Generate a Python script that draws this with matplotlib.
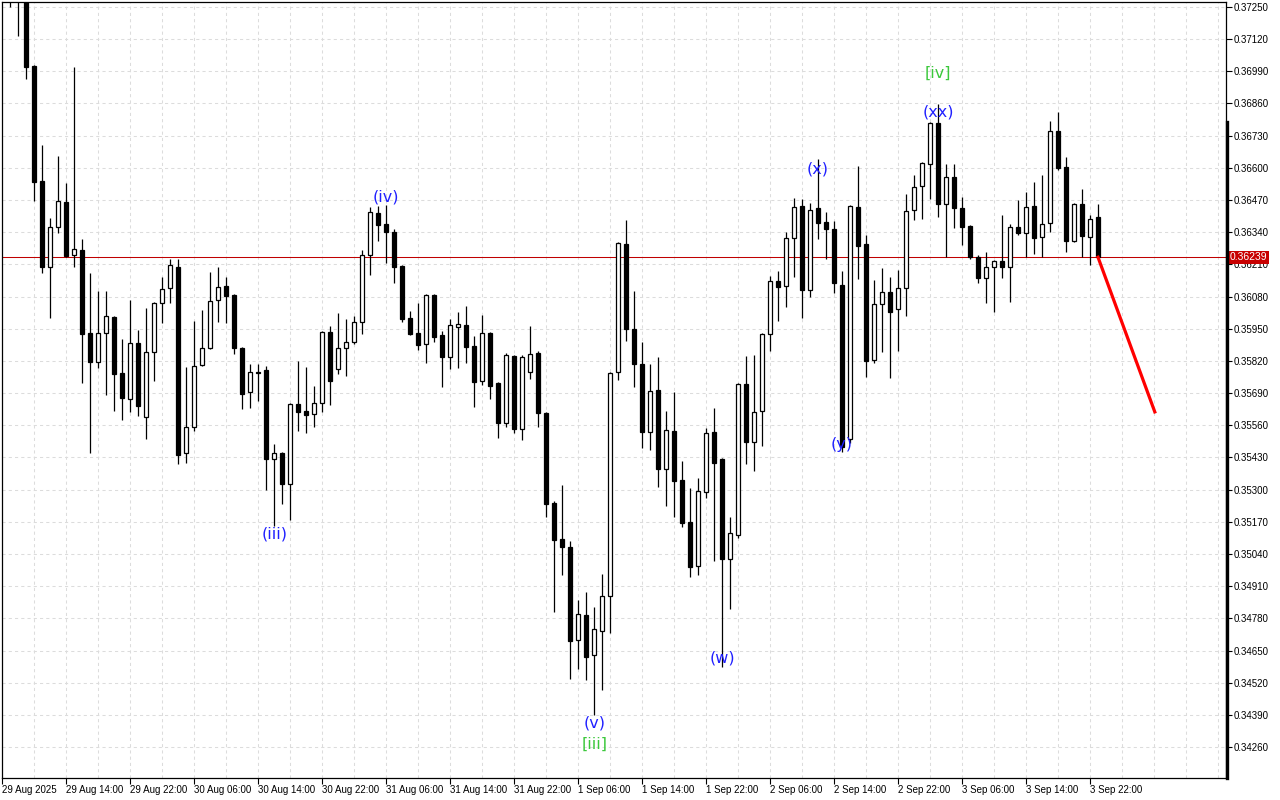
import numpy as np
import matplotlib.pyplot as plt
from matplotlib.lines import Line2D
from matplotlib.transforms import blended_transform_factory

# hourly candles, first one is 29 Aug 07:00
opens = [0.37420, 0.37330, 0.37290, 0.37012, 0.36547, 0.36199, 0.36361, 0.36462, 0.36248, 0.36268,
         0.35933, 0.35816, 0.35933, 0.35997, 0.35771, 0.35666, 0.35892, 0.35593, 0.35856, 0.36054,
         0.36115, 0.36199, 0.35448, 0.35553, 0.35804, 0.35872, 0.36066, 0.36123, 0.36086, 0.35872,
         0.35694, 0.35775, 0.35783, 0.35424, 0.35448, 0.35323, 0.35646, 0.35618, 0.35606, 0.35650,
         0.35937, 0.35787, 0.35872, 0.35896, 0.35977, 0.36248, 0.36418, 0.36374, 0.36341, 0.36203,
         0.35993, 0.35933, 0.35888, 0.36086, 0.35925, 0.35836, 0.35957, 0.35965, 0.35880, 0.35739,
         0.35933, 0.35731, 0.35569, 0.35840, 0.35545, 0.35775, 0.35852, 0.35610, 0.35246, 0.35100,
         0.35068, 0.34692, 0.34793, 0.34632, 0.34729, 0.34870, 0.35775, 0.36292, 0.35949, 0.35808,
         0.35533, 0.35702, 0.35383, 0.35537, 0.35339, 0.35169, 0.34991, 0.35290, 0.35533, 0.35424,
         0.35020, 0.35116, 0.35727, 0.35492, 0.35618, 0.35929, 0.36143, 0.36123, 0.36317, 0.36446,
         0.36107, 0.36438, 0.36381, 0.36353, 0.36127, 0.35505, 0.36442, 0.36292, 0.35824, 0.36050,
         0.36098, 0.36030, 0.36115, 0.36430, 0.36527, 0.36616, 0.36781, 0.36454, 0.36563, 0.36438,
         0.36365, 0.36240, 0.36155, 0.36199, 0.36224, 0.36199, 0.36361, 0.36337, 0.36446, 0.36321,
         0.36377, 0.36749, 0.36604, 0.36305, 0.36454, 0.36321, 0.36402]
highs = [0.37460, 0.37360, 0.37310, 0.37015, 0.36692, 0.36397, 0.36648, 0.36539, 0.37008, 0.36313,
         0.36175, 0.36103, 0.36103, 0.36001, 0.35909, 0.36066, 0.35945, 0.36034, 0.36058, 0.36159,
         0.36232, 0.36232, 0.35795, 0.35981, 0.36026, 0.36179, 0.36199, 0.36159, 0.36090, 0.35876,
         0.35808, 0.35808, 0.35799, 0.35484, 0.35452, 0.35650, 0.35820, 0.35795, 0.35719, 0.35941,
         0.35961, 0.36014, 0.35989, 0.36001, 0.36268, 0.36442, 0.36446, 0.36450, 0.36353, 0.36207,
         0.36022, 0.36054, 0.36090, 0.36090, 0.35941, 0.35989, 0.36018, 0.36042, 0.35921, 0.36006,
         0.35937, 0.35735, 0.35852, 0.35844, 0.35844, 0.35961, 0.35860, 0.35614, 0.35254, 0.35319,
         0.35092, 0.34854, 0.34886, 0.34826, 0.34959, 0.35775, 0.36300, 0.36390, 0.36103, 0.35896,
         0.35808, 0.35836, 0.35618, 0.35694, 0.35416, 0.35307, 0.35347, 0.35549, 0.35630, 0.35428,
         0.35189, 0.35731, 0.35840, 0.35844, 0.35933, 0.36163, 0.36183, 0.36341, 0.36478, 0.36474,
         0.36458, 0.36636, 0.36422, 0.36385, 0.36183, 0.36450, 0.36608, 0.36329, 0.36147, 0.36195,
         0.36159, 0.36187, 0.36494, 0.36571, 0.36624, 0.36785, 0.36858, 0.36616, 0.36616, 0.36482,
         0.36369, 0.36248, 0.36260, 0.36228, 0.36410, 0.36373, 0.36470, 0.36503, 0.36543, 0.36571,
         0.36789, 0.36826, 0.36644, 0.36458, 0.36515, 0.36410, 0.36454]
lows = [0.37250, 0.37133, 0.36960, 0.36466, 0.36175, 0.35993, 0.36337, 0.36240, 0.36199, 0.35731,
        0.35450, 0.35791, 0.35682, 0.35618, 0.35581, 0.35614, 0.35597, 0.35505, 0.35739, 0.35973,
        0.36054, 0.35403, 0.35407, 0.35537, 0.35800, 0.35868, 0.35977, 0.35973, 0.35848, 0.35626,
        0.35630, 0.35658, 0.35298, 0.35153, 0.35242, 0.35177, 0.35537, 0.35529, 0.35553, 0.35614,
        0.35642, 0.35767, 0.35759, 0.35888, 0.35929, 0.36167, 0.36305, 0.36216, 0.36135, 0.35977,
        0.35925, 0.35864, 0.35812, 0.35896, 0.35715, 0.35787, 0.35791, 0.35812, 0.35634, 0.35723,
        0.35666, 0.35509, 0.35553, 0.35529, 0.35501, 0.35747, 0.35553, 0.35189, 0.34806, 0.34955,
        0.34535, 0.34575, 0.34531, 0.34389, 0.34490, 0.34720, 0.35743, 0.35901, 0.35715, 0.35468,
        0.35460, 0.35310, 0.35234, 0.35189, 0.35149, 0.34947, 0.34955, 0.35266, 0.35011, 0.34584,
        0.34818, 0.35104, 0.35403, 0.35375, 0.35476, 0.35860, 0.35981, 0.36038, 0.36159, 0.35993,
        0.36078, 0.36313, 0.36232, 0.36094, 0.35452, 0.35488, 0.36151, 0.35755, 0.35812, 0.35856,
        0.35751, 0.35860, 0.36001, 0.36390, 0.36394, 0.36474, 0.36402, 0.36240, 0.36357, 0.36288,
        0.36232, 0.36135, 0.36054, 0.36018, 0.36155, 0.36058, 0.36329, 0.36240, 0.36252, 0.36240,
        0.36341, 0.36591, 0.36260, 0.36300, 0.36240, 0.36208, 0.36239]
closes = [0.37330, 0.37290, 0.37008, 0.36543, 0.36199, 0.36361, 0.36466, 0.36244, 0.36272, 0.35929,
          0.35816, 0.35933, 0.36001, 0.35767, 0.35670, 0.35892, 0.35638, 0.35856, 0.36054, 0.36111,
          0.36208, 0.35440, 0.35553, 0.35799, 0.35872, 0.36062, 0.36119, 0.36082, 0.35872, 0.35686,
          0.35775, 0.35771, 0.35424, 0.35448, 0.35323, 0.35646, 0.35614, 0.35601, 0.35650, 0.35937,
          0.35739, 0.35872, 0.35896, 0.35977, 0.36248, 0.36422, 0.36370, 0.36341, 0.36199, 0.35989,
          0.35929, 0.35884, 0.36086, 0.35917, 0.35836, 0.35965, 0.35969, 0.35876, 0.35735, 0.35933,
          0.35719, 0.35569, 0.35844, 0.35545, 0.35836, 0.35848, 0.35610, 0.35242, 0.35096, 0.35068,
          0.34688, 0.34797, 0.34624, 0.34737, 0.34870, 0.35771, 0.36296, 0.35949, 0.35808, 0.35533,
          0.35698, 0.35383, 0.35541, 0.35335, 0.35165, 0.34987, 0.35294, 0.35529, 0.35407, 0.35020,
          0.35125, 0.35727, 0.35492, 0.35614, 0.35929, 0.36143, 0.36119, 0.36317, 0.36442, 0.36107,
          0.36430, 0.36377, 0.36353, 0.36135, 0.35472, 0.36446, 0.36284, 0.35820, 0.36050, 0.36098,
          0.36018, 0.36115, 0.36426, 0.36523, 0.36620, 0.36781, 0.36454, 0.36563, 0.36438, 0.36361,
          0.36240, 0.36155, 0.36199, 0.36224, 0.36199, 0.36361, 0.36337, 0.36442, 0.36317, 0.36373,
          0.36749, 0.36600, 0.36305, 0.36454, 0.36325, 0.36394, 0.36239]

time_labels = ["29 Aug 2025", "29 Aug 14:00", "29 Aug 22:00", "30 Aug 06:00", "30 Aug 14:00",
               "30 Aug 22:00", "31 Aug 06:00", "31 Aug 14:00", "31 Aug 22:00", "1 Sep 06:00",
               "1 Sep 14:00", "1 Sep 22:00", "2 Sep 06:00", "2 Sep 14:00", "2 Sep 22:00",
               "3 Sep 06:00", "3 Sep 14:00", "3 Sep 22:00"]
price_ticks = [0.37250, 0.37120, 0.36990, 0.36860, 0.36730, 0.36600, 0.36470, 0.36340, 0.36210,
               0.36080, 0.35950, 0.35820, 0.35690, 0.35560, 0.35430, 0.35300, 0.35170, 0.35040,
               0.34910, 0.34780, 0.34650, 0.34520, 0.34390, 0.34260]

# wave labels: text, candle index, price, colour
wave_text = ["(iii)", "(iv)", "(v)", "[iii]", "(w)", "(x)", "(y)", "(xx)", "[iv]"]
wave_bar = [33.1, 47, 73.1, 73.1, 89, 101, 104, 116, 116]
wave_price = [0.35121, 0.36482, 0.34357, 0.34272, 0.34620, 0.36595, 0.35484, 0.36826, 0.36983]
wave_color = ["#2020ff", "#2020ff", "#2020ff", "#3cc83c", "#2020ff", "#2020ff", "#2020ff", "#2020ff", "#3cc83c"]

last_price = 0.36239
forecast_x = [136, 143.1]
forecast_y = [0.36239, 0.35614]

plt.rcParams['font.family'] = ['Liberation Sans', 'DejaVu Sans']

fig = plt.figure(figsize=(12.8, 8), dpi=100)
ax = fig.add_axes([2 / 1280, 22 / 800, 1224 / 1280, 776 / 800])

o = np.array(opens)
c = np.array(closes)
x = np.arange(len(o))
up = c >= o

ax.vlines(x, lows, highs, color="black", lw=0.9, zorder=2)
ax.bar(x, np.abs(c - o), bottom=np.minimum(o, c), width=0.5,
       color=np.where(up, "white", "black"), edgecolor="black", linewidth=0.9, zorder=3)

ax.axhline(last_price, color="#c00000", lw=0.75, zorder=1)
ax.plot(forecast_x, forecast_y, color="red", lw=2.3, zorder=4)

for t, xb, yp, col in zip(wave_text, wave_bar, wave_price, wave_color):
    ax.text(xb, yp, t, color=col, fontsize=11.5, ha="center", va="center",
            family="DejaVu Sans", zorder=5)

ax.set_xlim(-1, 152)
ax.set_ylim(0.34135, 0.37270)

xt = np.arange(len(time_labels)) * 8 - 1
ax.set_xticks(xt)
ax.set_xticklabels(time_labels, ha="left")
ax.set_xticks(np.arange(-1, 152, 4), minor=True)
ax.yaxis.tick_right()
ax.set_yticks(price_ticks)
ax.set_yticklabels([f"{p:.5f}" for p in price_ticks])
ax.tick_params(axis="x", which="major", direction="out", length=4, width=0.8, pad=1, labelsize=7)
ax.tick_params(axis="x", which="minor", length=0)
ax.tick_params(axis="y", direction="out", length=4, width=0.8, pad=1.5, labelsize=7)

ax.grid(True, which="both", axis="x", color="#dcdcdc", ls=(0, (3, 3)), lw=0.75)
ax.grid(True, which="major", axis="y", color="#dcdcdc", ls=(0, (3, 3)), lw=0.75)
ax.set_axisbelow(True)
for s in ax.spines.values():
    s.set_linewidth(0.9)

tr = blended_transform_factory(ax.transAxes, ax.transData)
ax.text(1 + 4 / 1224, last_price, f"{last_price:.5f}", transform=tr, color="white", fontsize=7.5,
        ha="left", va="center", zorder=6,
        bbox=dict(facecolor="#c80000", edgecolor="none", pad=1.2))

fig.add_artist(Line2D([1227 / 1280, 1227 / 1280], [22 / 800, 678 / 800], color="black", lw=2.4))

fig.savefig("out.png", dpi=100)
